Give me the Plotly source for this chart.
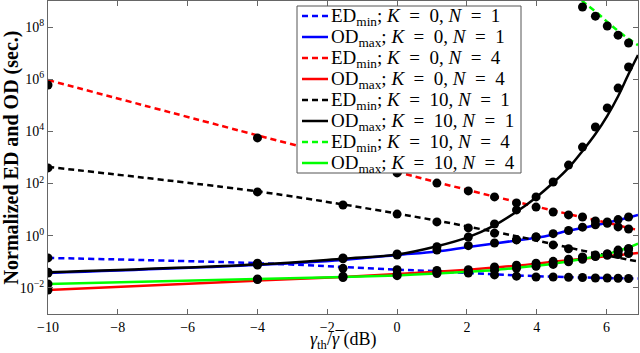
import plotly.graph_objects as go

# x positions in dB (theory grid and simulation points)
X_THEORY = [-10, -4, -1.55, 0, 1.14, 2.04, 2.79, 3.42, 3.98, 4.47, 4.91, 5.31, 5.68, 6.02, 6.33, 6.63, 6.9]
X_SIM = [-10, -4, -1.55, 0, 1.14, 2.04, 2.79, 3.42, 3.98, 4.47, 4.91, 5.31, 5.68, 6.02, 6.33, 6.63]

# theory curves, log10 of normalized delay
ED_K0_N1 = [-0.85, -1.05, -1.2, -1.3, -1.36, -1.43, -1.48, -1.52, -1.55, -1.57, -1.59, -1.6, -1.61, -1.62, -1.63, -1.63, -1.64]
OD_K0_N1 = [-1.43, -1.12, -0.93, -0.74, -0.6, -0.43, -0.3, -0.18, -0.08, 0.05, 0.2, 0.3, 0.4, 0.5, 0.6, 0.7, 0.8]
ED_K0_N4 = [5.97, 3.85, 3.0, 2.45, 2.05, 1.75, 1.5, 1.3, 1.12, 0.97, 0.83, 0.71, 0.6, 0.5, 0.4, 0.3, 0.22]
OD_K0_N4 = [-2.08, -1.72, -1.58, -1.47, -1.38, -1.3, -1.22, -1.15, -1.07, -1.0, -0.94, -0.88, -0.83, -0.78, -0.74, -0.7, -0.66]
ED_K10_N1 = [2.64, 1.7, 1.2, 0.85, 0.58, 0.35, 0.15, -0.02, -0.18, -0.32, -0.45, -0.57, -0.67, -0.76, -0.84, -0.92, -0.98]
OD_K10_N1 = [-1.4, -1.1, -0.88, -0.72, -0.4, -0.05, 0.4, 0.92, 1.47, 2.03, 2.6, 3.25, 3.9, 4.6, 5.35, 6.2, 6.93]
ED_K10_N4 = [None, None, None, None, None, None, None, None, None, None, 9.6, 9.0, 8.6, 8.2, 7.85, 7.55, 7.31]
OD_K10_N4 = [-1.85, -1.66, -1.58, -1.52, -1.45, -1.38, -1.31, -1.23, -1.15, -1.07, -0.98, -0.89, -0.8, -0.7, -0.58, -0.45, -0.3]

# simulation points, log10
SIM_ED_K0_N1 = [-0.85, -1.05, -1.25, -1.3, -1.33, -1.43, -1.5, -1.55, -1.58, -1.58, -1.59, -1.6, -1.62, -1.62, -1.63, -1.64]
SIM_OD_K0_N1 = [-1.43, -1.12, -0.88, -0.74, -0.55, -0.38, -0.28, -0.15, -0.05, 0.08, 0.2, 0.33, 0.42, 0.48, 0.62, 0.72]
SIM_ED_K0_N4 = [5.78, 3.75, 3.0, 2.41, 2.02, 1.72, 1.49, 1.26, 1.1, 0.91, 0.8, 0.72, 0.57, 0.53, 0.34, 0.26]
SIM_OD_K0_N4 = [-2.08, -1.68, -1.55, -1.47, -1.38, -1.3, -1.2, -1.13, -1.05, -0.98, -0.9, -0.86, -0.8, -0.75, -0.72, -0.68]
SIM_ED_K10_N1 = [2.6, 1.68, 1.18, 0.83, 0.53, 0.3, 0.1, -0.16, -0.05, -0.35, -0.5, -0.81, -0.74, -0.7, -0.55, -0.5]
SIM_OD_K10_N1 = [-1.4, -1.08, -0.85, -0.7, -0.42, -0.05, 0.45, 0.99, 1.49, 2.06, 2.71, 3.4, 4.17, 4.9, 5.66, 6.47]
SIM_ED_K10_N4 = [None, None, None, None, None, None, None, None, None, None, None, 8.77, 8.42, 8.04, 7.69, 7.39]
SIM_OD_K10_N4 = [-1.85, -1.66, -1.6, -1.53, -1.45, -1.38, -1.32, -1.25, -1.17, -1.1, -1.0, -0.9, -0.78, -0.7, -0.6, -0.5]

SERIES = [
    ("ED", "0", "1", "#0000FF", True, ED_K0_N1, SIM_ED_K0_N1),
    ("OD", "0", "1", "#0000FF", False, OD_K0_N1, SIM_OD_K0_N1),
    ("ED", "0", "4", "#FF0000", True, ED_K0_N4, SIM_ED_K0_N4),
    ("OD", "0", "4", "#FF0000", False, OD_K0_N4, SIM_OD_K0_N4),
    ("ED", "10", "1", "#000000", True, ED_K10_N1, SIM_ED_K10_N1),
    ("OD", "10", "1", "#000000", False, OD_K10_N1, SIM_OD_K10_N1),
    ("ED", "10", "4", "#00FF00", True, ED_K10_N4, SIM_ED_K10_N4),
    ("OD", "10", "4", "#00FF00", False, OD_K10_N4, SIM_OD_K10_N4),
]

W, H = 640, 353
ML, MR, MT, MB = 48, 2, 1, 39
PW, PH = W - ML - MR, H - MT - MB
SERIF = "Liberation Serif"
DASH = "6px,4px"
EQ = "\u2002=\u2002"


def pw(vals):
    return [None if v is None else 10 ** v for v in vals]


def px(x):
    # pixel column -> paper x
    return (x - ML) / PW


def py(y):
    # pixel row -> paper y
    return 1 - (y - MT) / PH


fig = go.Figure()

for kind, k, n, color, dashed, theory, _ in SERIES:
    fig.add_trace(go.Scatter(
        x=X_THEORY, y=pw(theory), mode="lines", showlegend=False,
        line=dict(color=color, width=2.5, dash=DASH if dashed else "solid", shape="spline"),
    ))

for _, _, _, _, _, _, sim in SERIES:
    fig.add_trace(go.Scatter(
        x=X_SIM, y=pw(sim), mode="markers", showlegend=False,
        marker=dict(color="black", size=9),
    ))

# hand-drawn legend box (MATLAB style)
shapes = [dict(type="rect", xref="paper", yref="paper",
               x0=px(297), x1=px(521), y0=py(173), y1=py(6),
               fillcolor="white", line=dict(color="#555555", width=1), layer="above")]
annotations = []
for i, (kind, k, n, color, dashed, _, _) in enumerate(SERIES):
    yc = 16 + 21 * i
    shapes.append(dict(type="line", xref="paper", yref="paper",
                       x0=px(302), x1=px(328), y0=py(yc), y1=py(yc), layer="above",
                       line=dict(color=color, width=2.5, dash=DASH if dashed else "solid")))
    sub = "min" if kind == "ED" else "max"
    annotations.append(dict(
        xref="paper", yref="paper", x=px(329), y=py(yc + 1), xanchor="left", yanchor="middle",
        showarrow=False, align="left",
        text=f"{kind}<sub>{sub}</sub>; <i>K</i>{EQ}{k}, <i>N</i>{EQ}{n}",
        font=dict(family=SERIF, size=19, color="black"),
    ))

# x-axis title, placed just under the tick labels
annotations.append(dict(
    xref="paper", yref="paper", x=px(343), y=py(354), xanchor="center", yanchor="bottom",
    showarrow=False, text="<i>γ</i><sub>th</sub>/<i>γ̅</i> (dB)",
    font=dict(family=SERIF, size=18, color="black"),
))

axis_style = dict(
    showline=True, linecolor="#666666", linewidth=1, mirror="ticks",
    ticks="inside", ticklen=5, tickcolor="#666666", showgrid=False, zeroline=False,
    automargin=False,
    tickfont=dict(family=SERIF, size=14, color="black"),
)

fig.update_xaxes(
    range=[-10, 6.9], tickvals=[-10, -8, -6, -4, -2, 0, 2, 4, 6],
    **axis_style,
)
fig.update_yaxes(
    type="log", range=[-3, 9],
    tickvals=[1e-2, 1, 1e2, 1e4, 1e6, 1e8],
    ticktext=["10<sup>−2</sup>", "10<sup>0</sup>", "10<sup>2</sup>", "10<sup>4</sup>", "10<sup>6</sup>", "10<sup>8</sup>"],
    title=dict(text="<b>Normalized ED and OD (sec.)</b>", standoff=4,
               font=dict(family=SERIF, size=20, color="black")),
    **axis_style,
)

fig.update_layout(
    width=W, height=H,
    margin=dict(l=ML, r=MR, t=MT, b=MB),
    paper_bgcolor="white", plot_bgcolor="white",
    showlegend=False,
    shapes=shapes, annotations=annotations,
)

# drop the default 8px page margin so the figure sits at the window's corner
fig.write_html("out.html", config={"displayModeBar": False},
               post_script="document.body.style.margin = '0';")
